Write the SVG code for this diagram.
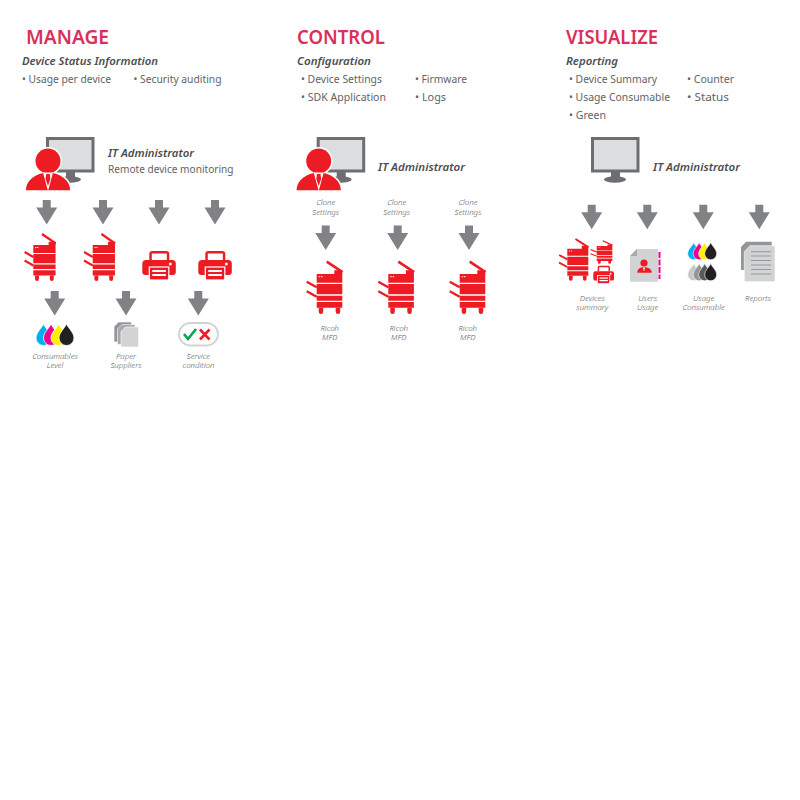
<svg xmlns="http://www.w3.org/2000/svg" xmlns:xlink="http://www.w3.org/1999/xlink" width="800" height="800" viewBox="0 0 800 800">
<style>
text{font-family:"Noto Sans","Open Sans",sans-serif;fill:#58595b}
.t{font-size:20px;font-weight:600;fill:#d9305a}
.s{font-size:11.500px;font-weight:600;font-style:italic;fill:#4d4d4f}
.b{font-size:11px;fill:#626366}
.c{font-size:7.800px;font-style:italic;text-anchor:middle;fill:#58595b;font-weight:300}
.r{fill:#ed1c24}
</style>
<defs>
<path id="arrow" d="M-4 0H4V7.500H10.500L0 24.500L-10.500 7.500H-4Z" fill="#808285"/>
<path id="drop" d="M0 -10.500C2 -6 7.500 -2 7.500 3.500A7.500 7.500 0 0 1 -7.500 3.500C-7.500 -2 -2 -6 0 -10.500Z" stroke="#fff" stroke-width=".8"/>
<g id="monitor">
<rect x="1.500" y="1.500" width="45.500" height="32.500" fill="#dcddde" stroke="#6d6e71" stroke-width="3"/>
<rect x="20" y="35" width="9" height="6" fill="#6d6e71"/>
<ellipse cx="24" cy="42.500" rx="11" ry="3.200" fill="#6d6e71"/>
</g>
<g id="admin">
<use xlink:href="#monitor"/>
<circle cx="2" cy="24" r="14" fill="#fff"/>
<path d="M-21 54C-21 43 -11 35 2 35C15 35 25 43 25 54Z" class="r" stroke="#fff" stroke-width="1.500"/>
<circle cx="2" cy="24" r="12.500" class="r"/>
<path d="M-3 35.500H7L2 54Z" fill="#fff"/>
<path d="M0.200 37H3.800L4.400 42L2 49L-.4 42Z" class="r"/>
</g>
<g id="mfd" class="r">
<path d="M0 12.300H17.600V8.500H25.600V21H0Z"/>
<path d="M0 22.300H25.600V32.500H0ZM0 34H25.600V39H0ZM0 40.300H25.600V46H0Z"/>
<path d="M2 46H6.500V50A2.250 2.250 0 0 1 2 50ZM19 46H23.500V50A2.250 2.250 0 0 1 19 50Z"/>
<path d="M10 0L25.800 10.500" fill="none" stroke="#ed1c24" stroke-width="2.600"/>
<path d="M-10 20L0 25.500M-10 29.500L0 35" fill="none" stroke="#ed1c24" stroke-width="2.400"/>
<rect x="2" y="14.500" width="1.500" height="1" fill="#fff"/><rect x="4.300" y="14.500" width="1.500" height="1" fill="#fff"/>
</g>
<g id="printer">
<path class="r" d="M7 9V3A3 3 0 0 1 10 0H24A3 3 0 0 1 27 3V9Z"/>
<rect x="9.500" y="2.500" width="15" height="7" fill="#fff"/>
<path class="r" d="M4 9H30A3.500 3.500 0 0 1 33.500 12.500V21A3 3 0 0 1 30.500 24H3A3 3 0 0 1 0 21V12.500A3.500 3.500 0 0 1 4 9Z"/>
<circle cx="28" cy="13" r="1.500" fill="#fff"/>
<rect x="7" y="16" width="19.500" height="13" fill="#ed1c24" stroke="#fff" stroke-width="1.200"/>
<rect x="10" y="19" width="13.500" height="2" fill="#fff"/><rect x="10" y="23" width="13.500" height="2" fill="#fff"/>
</g>
<path id="sheet" d="M4.500 0H17.500V20H0V4.500Z"/>
</defs>

<g id="manage-header">
<text class="t" x="26" y="44" textLength="83" lengthAdjust="spacingAndGlyphs">MANAGE</text>
<text class="s" x="22" y="65" textLength="136" lengthAdjust="spacingAndGlyphs">Device Status Information</text>
<text class="b" x="22" y="83" textLength="89" lengthAdjust="spacingAndGlyphs">• Usage per device</text>
<text class="b" x="133.500" y="83" textLength="88" lengthAdjust="spacingAndGlyphs">• Security auditing</text>
</g>
<g id="control-header">
<text class="t" x="297" y="44" textLength="88" lengthAdjust="spacingAndGlyphs">CONTROL</text>
<text class="s" x="297" y="65" textLength="74" lengthAdjust="spacingAndGlyphs">Configuration</text>
<text class="b" x="301" y="83" textLength="81" lengthAdjust="spacingAndGlyphs">• Device Settings</text>
<text class="b" x="415" y="83" textLength="52" lengthAdjust="spacingAndGlyphs">• Firmware</text>
<text class="b" x="301" y="101" textLength="85" lengthAdjust="spacingAndGlyphs">• SDK Application</text>
<text class="b" x="415" y="101" textLength="31" lengthAdjust="spacingAndGlyphs">• Logs</text>
</g>
<g id="visualize-header">
<text class="t" x="566" y="44" textLength="92" lengthAdjust="spacingAndGlyphs">VISUALIZE</text>
<text class="s" x="566" y="65" textLength="52" lengthAdjust="spacingAndGlyphs">Reporting</text>
<text class="b" x="569" y="83" textLength="88" lengthAdjust="spacingAndGlyphs">• Device Summary</text>
<text class="b" x="687" y="83" textLength="47" lengthAdjust="spacingAndGlyphs">• Counter</text>
<text class="b" x="569" y="101" textLength="101" lengthAdjust="spacingAndGlyphs">• Usage Consumable</text>
<text class="b" x="687" y="101" textLength="42" lengthAdjust="spacingAndGlyphs">• Status</text>
<text class="b" x="569" y="119" textLength="37" lengthAdjust="spacingAndGlyphs">• Green</text>
</g>

<g id="connectors">
<use xlink:href="#arrow" x="46.700" y="200"/><use xlink:href="#arrow" x="103" y="200"/><use xlink:href="#arrow" x="159" y="200"/><use xlink:href="#arrow" x="215" y="200"/>
<use xlink:href="#arrow" x="54.700" y="291"/><use xlink:href="#arrow" x="126" y="291"/><use xlink:href="#arrow" x="198.300" y="291"/>
<use xlink:href="#arrow" x="325.700" y="225.500"/><use xlink:href="#arrow" x="397.700" y="225.500"/><use xlink:href="#arrow" x="469" y="225.500"/>
<use xlink:href="#arrow" x="591.700" y="204.700"/><use xlink:href="#arrow" x="647.300" y="204.700"/><use xlink:href="#arrow" x="703.300" y="204.700"/><use xlink:href="#arrow" x="759.300" y="204.700"/>
</g>

<g id="manage-admin">
<use xlink:href="#admin" x="46" y="137"/>
<text class="s" x="108" y="157" textLength="86" lengthAdjust="spacingAndGlyphs">IT Administrator</text>
<text class="b" x="108" y="173" textLength="125.500" lengthAdjust="spacingAndGlyphs">Remote device monitoring</text>
</g>
<g id="manage-mfd-1"><use xlink:href="#mfd" transform="translate(33.300 234) scale(.87 .9)"/></g>
<g id="manage-mfd-2"><use xlink:href="#mfd" transform="translate(92.700 234) scale(.87 .9)"/></g>
<g id="manage-printer-1"><use xlink:href="#printer" x="142.300" y="251"/></g>
<g id="manage-printer-2"><use xlink:href="#printer" x="198.300" y="251"/></g>
<g id="consumables">
<use xlink:href="#drop" x="43.500" y="334.500" fill="#00aeef"/><use xlink:href="#drop" x="51" y="334.500" fill="#ec008c"/><use xlink:href="#drop" x="58.500" y="334.500" fill="#fff200"/><use xlink:href="#drop" x="66.500" y="334.500" fill="#231f20"/>
<text class="c" x="55" y="359">Consumables</text><text class="c" x="55" y="368">Level</text>
</g>
<g id="paper">
<use xlink:href="#sheet" x="114" y="322" fill="#939598" stroke="#fff" stroke-width=".6"/>
<use xlink:href="#sheet" x="117.500" y="324.500" fill="#a7a9ac" stroke="#fff" stroke-width=".6"/>
<use xlink:href="#sheet" x="121" y="327" fill="#d1d3d4" stroke="#fff" stroke-width=".6"/>
<text class="c" x="126" y="359">Paper</text><text class="c" x="126" y="368">Suppliers</text>
</g>
<g id="service">
<rect x="179" y="323" width="39" height="22.500" rx="11.200" fill="#fff" stroke="#d1d3d4" stroke-width="1.800"/>
<path d="M184 334L188 339L196 329" fill="none" stroke="#00a651" stroke-width="2.600"/>
<path d="M200 329.500L209.500 339.500M209.500 329.500L200 339.500" fill="none" stroke="#ed1c24" stroke-width="2.600"/>
<text class="c" x="198.500" y="359">Service</text><text class="c" x="198.500" y="368">condition</text>
</g>

<g id="control-admin">
<use xlink:href="#admin" x="316.700" y="137"/>
<text class="s" x="378" y="171" textLength="87" lengthAdjust="spacingAndGlyphs">IT Administrator</text>
</g>
<g id="clone-labels">
<text class="c" x="325.700" y="205">Clone</text><text class="c" x="325.700" y="215">Settings</text>
<text class="c" x="396.700" y="205">Clone</text><text class="c" x="396.700" y="215">Settings</text>
<text class="c" x="468" y="205">Clone</text><text class="c" x="468" y="215">Settings</text>
</g>
<g id="control-mfd-1"><use xlink:href="#mfd" x="316.700" y="261.700"/><text class="c" x="329.700" y="331">Ricoh</text><text class="c" x="329.700" y="340">MFD</text></g>
<g id="control-mfd-2"><use xlink:href="#mfd" x="388.300" y="261.700"/><text class="c" x="398.700" y="331">Ricoh</text><text class="c" x="398.700" y="340">MFD</text></g>
<g id="control-mfd-3"><use xlink:href="#mfd" x="459.700" y="261.700"/><text class="c" x="467.700" y="331">Ricoh</text><text class="c" x="467.700" y="340">MFD</text></g>

<g id="visualize-admin">
<use xlink:href="#monitor" x="591" y="137"/>
<text class="s" x="653" y="171" textLength="87" lengthAdjust="spacingAndGlyphs">IT Administrator</text>
</g>
<g id="devices">
<use xlink:href="#mfd" transform="translate(567.300 239) scale(.82 .8)"/>
<use xlink:href="#mfd" transform="translate(596.700 240.700) scale(.61 .44)"/>
<use xlink:href="#printer" transform="translate(593.300 265.700) scale(.62)"/>
<text class="c" x="592.300" y="301">Devices</text><text class="c" x="592.300" y="310">summary</text>
</g>
<g id="users">
<path d="M637 249H658V281.700H630V256Z" fill="#d1d3d4"/>
<path d="M637 249V256H630Z" fill="#a7a9ac"/>
<path d="M659.500 252V279" stroke="#ec008c" stroke-width="2" stroke-dasharray="6 1.500" fill="none"/>
<circle cx="644" cy="263" r="3.600" class="r"/>
<path d="M637.300 272.700C637.300 269 640 267.300 644 267.300C648 267.300 651.700 269 651.700 272.700Z" class="r"/>
<path d="M643 267.500H645L644 271.500Z" fill="#fff"/>
<text class="c" x="647.700" y="301">Users</text><text class="c" x="647.700" y="310">Usage</text>
</g>
<g id="usage-consumable">
<g transform="translate(693.700 251) scale(.8)"><use xlink:href="#drop" fill="#00aeef"/></g>
<g transform="translate(699.200 251) scale(.8)"><use xlink:href="#drop" fill="#ec008c"/></g>
<g transform="translate(704.700 251) scale(.8)"><use xlink:href="#drop" fill="#fff200"/></g>
<g transform="translate(710.700 251) scale(.8)"><use xlink:href="#drop" fill="#231f20"/></g>
<g transform="translate(693.700 272) scale(.8)"><use xlink:href="#drop" fill="#c7c8ca"/></g>
<g transform="translate(699.200 272) scale(.8)"><use xlink:href="#drop" fill="#939598"/></g>
<g transform="translate(704.700 272) scale(.8)"><use xlink:href="#drop" fill="#58595b"/></g>
<g transform="translate(710.700 272) scale(.8)"><use xlink:href="#drop" fill="#231f20"/></g>
<text class="c" x="703.700" y="301">Usage</text><text class="c" x="703.700" y="310">Consumable</text>
</g>
<g id="reports">
<path d="M746 241.700H771.700V270H741V247Z" fill="#939598"/>
<path d="M750 245.700H775V281.700H744.300V251.500Z" fill="#d1d3d4" stroke="#fff" stroke-width=".6"/>
<path d="M751 256H771M751 260.500H771M751 265H771M751 269.500H771M751 274H771M751 251.700H771" stroke="#808285" stroke-width=".7" fill="none"/>
<text class="c" x="758" y="301">Reports</text>
</g>
</svg>
